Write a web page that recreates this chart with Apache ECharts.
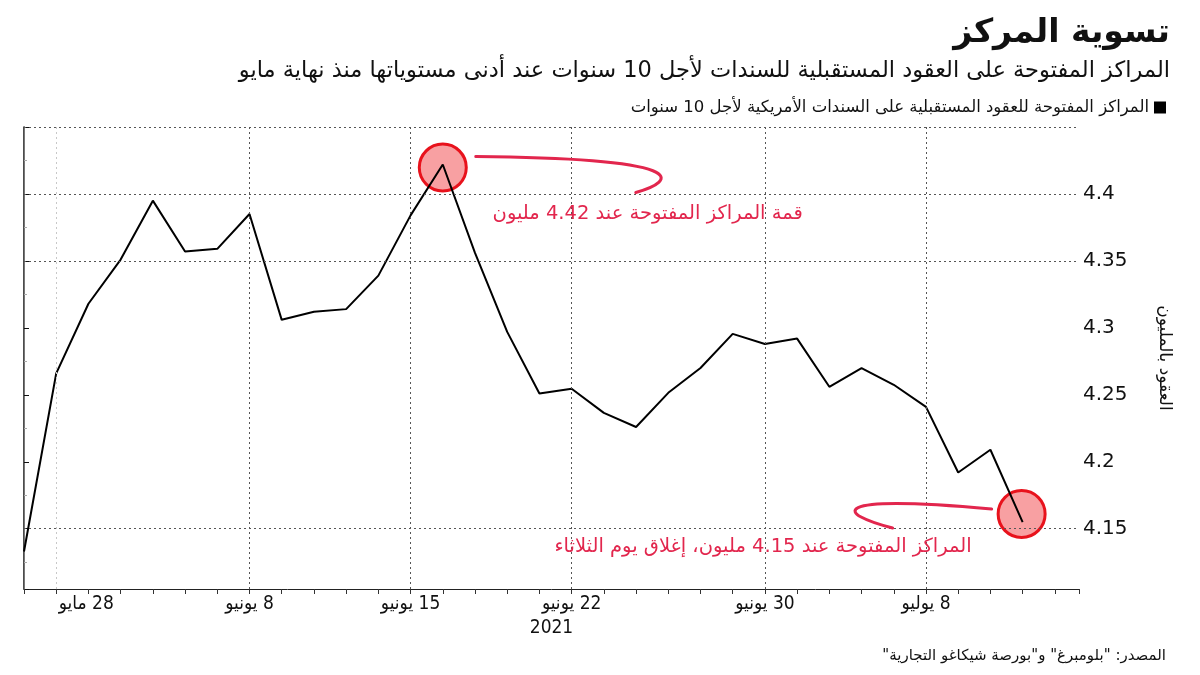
<!DOCTYPE html>
<html>
<head>
<meta charset="utf-8">
<script src="https://cdn.jsdelivr.net/npm/echarts@6/dist/echarts.min.js"></script>
<style>
html,body{margin:0;padding:0;background:#fff;}
#chart{width:1200px;height:675px;}
</style>
</head>
<body>
<div id="chart" dir="rtl"></div>
<script>
// ---- data ----
const tradingDays = ['2021-05-27','2021-05-28','2021-06-01','2021-06-02','2021-06-03','2021-06-04','2021-06-07','2021-06-08',
  '2021-06-09','2021-06-10','2021-06-11','2021-06-14','2021-06-15','2021-06-16','2021-06-17','2021-06-18',
  '2021-06-21','2021-06-22','2021-06-23','2021-06-24','2021-06-25','2021-06-28','2021-06-29','2021-06-30',
  '2021-07-01','2021-07-02','2021-07-06','2021-07-07','2021-07-08','2021-07-09','2021-07-12','2021-07-13'];
const openInterest = [4.133, 4.266, 4.318, 4.351, 4.395, 4.357, 4.359, 4.385,
  4.306, 4.312, 4.314, 4.339, 4.384, 4.422, 4.356, 4.297,
  4.251, 4.2545, 4.2365, 4.226, 4.2515, 4.270, 4.2955, 4.288,
  4.292, 4.256, 4.270, 4.2575, 4.241, 4.192, 4.209, 4.155];
const tickIndex = [1, 7, 12, 17, 23, 28];
const tickLabels = ['28 مايو', '8 يونيو', '15 يونيو', '22 يونيو', '30 يونيو', '8 يوليو'];
const yGridValues = [4.45, 4.4, 4.35, 4.15];
const seriesName = 'المراكز المفتوحة للعقود المستقبلية على السندات الأمريكية لأجل 10 سنوات';
const titleText = 'تسوية المركز';
const subtitleText = 'المراكز المفتوحة على العقود المستقبلية للسندات لأجل 10 سنوات عند أدنى مستوياتها منذ نهاية مايو';
const sourceText = 'المصدر: "بلومبرغ" و"بورصة شيكاغو التجارية"';
const yAxisName = 'العقود بالمليون';
const peakNote = 'قمة المراكز المفتوحة عند 4.42 مليون';
const lastNote = 'المراكز المفتوحة عند 4.15 مليون، إغلاق يوم الثلاثاء';

const FONT = "'DejaVu Sans', 'Noto Sans', sans-serif";
const CFONT = "'DejaVu Sans Condensed', 'DejaVu Sans', sans-serif";
const RED = '#e2264d';

const peakIdx = openInterest.indexOf(Math.max(...openInterest));
const lastIdx = openInterest.length - 1;

const chart = echarts.init(document.getElementById('chart'), null, {renderer: 'canvas'});

const option = {
  animation: false,
  backgroundColor: '#ffffff',
  textStyle: {fontFamily: FONT},
  title: [
    {text: titleText, right: 25, top: 12, textStyle: {fontSize: 33, fontWeight: 'bold', color: '#111', fontFamily: FONT}},
    {text: subtitleText, right: 25, top: 55, textStyle: {fontSize: 22.5, fontWeight: 'normal', color: '#111', fontFamily: FONT}},
    {text: sourceText, right: 29, bottom: 6, textStyle: {fontSize: 15, fontWeight: 'normal', color: '#111', fontFamily: FONT}}
  ],
  legend: {
    right: 29, top: 94, align: 'right', icon: 'rect', itemWidth: 12, itemHeight: 12, itemGap: 6,
    data: [seriesName],
    textStyle: {fontSize: 16.5, color: '#111', fontFamily: FONT}
  },
  grid: {left: 24, right: 121, top: 127, bottom: 86},
  xAxis: {
    type: 'value', min: 0, max: 32.75, interval: 1,
    name: '2021', nameLocation: 'middle', nameGap: 29,
    nameTextStyle: {fontSize: 19, color: '#111', fontFamily: CFONT},
    axisLine: {show: true, lineStyle: {color: '#222', width: 1}},
    axisTick: {show: true, length: 5, lineStyle: {color: '#333'}},
    splitLine: {show: false},
    axisLabel: {
      margin: 6, fontSize: 19, color: '#111', fontFamily: CFONT,
      formatter: function (v) {
        const k = tickIndex.indexOf(Math.round(v));
        if (k < 0 || Math.abs(v - Math.round(v)) > 1e-6) return '';
        if (k === 0) return '{s|' + tickLabels[k] + '}';
        return tickLabels[k];
      },
      rich: {s: {fontSize: 19, color: '#111', fontFamily: CFONT, padding: [0, 0, 0, 60]}}
    }
  },
  yAxis: [
    {
      type: 'value', position: 'right', min: 4.105, max: 4.45, splitNumber: 7,
      name: yAxisName, nameLocation: 'middle', nameRotate: -90, nameGap: 77,
      nameTextStyle: {fontSize: 17, color: '#111', fontFamily: FONT},
      axisLine: {show: true, lineStyle: {color: '#111', width: 1.5}},
      axisTick: {show: true, length: 5, lineStyle: {color: '#111'}},
      minorTick: {show: true, splitNumber: 2, length: 3, lineStyle: {color: '#aaa'}},
      splitLine: {show: false},
      axisLabel: {
        margin: 4, fontSize: 20, color: '#111', fontFamily: FONT,
        showMinLabel: false, showMaxLabel: false,
        formatter: function (v) {
          const r = Math.round(v * 20) / 20;
          if (Math.abs(r - v) > 1e-6 || v > 4.44) return '';
          return String(+r.toFixed(2));
        }
      }
    },
    {
      type: 'value', position: 'left', min: 4.105, max: 4.45,
      axisLine: {show: true, lineStyle: {color: '#777', width: 1}},
      axisTick: {show: false}, axisLabel: {show: false}, splitLine: {show: false}
    }
  ],
  series: [
    {
      name: 'grid', type: 'line', data: [], z: 1, silent: true,
      markLine: {
        silent: true, symbol: ['none', 'none'], label: {show: false}, animation: false,
        data: yGridValues.map(v => ({yAxis: v, lineStyle: {color: '#555', type: [2, 3], width: 1}}))
          .concat(tickIndex.map((i, k) => ({xAxis: i, lineStyle: {color: k === 0 ? '#c8c8c8' : '#555', type: [2, 3], width: 1}})))
      }
    },
    {
      name: 'circles', type: 'scatter', z: 2, silent: true,
      data: [
        {value: [peakIdx, openInterest[peakIdx]], symbolOffset: [0, 3]},
        {value: [lastIdx, openInterest[lastIdx]], symbolOffset: [-1, -8]}
      ],
      symbol: 'circle', symbolSize: 47,
      itemStyle: {color: '#f8a0a2', borderColor: '#e8121c', borderWidth: 3, opacity: 1}
    },
    {
      name: seriesName, type: 'line', z: 3,
      data: openInterest.map((v, i) => [i, v]),
      showSymbol: false, symbol: 'none',
      lineStyle: {color: '#000', width: 2},
      itemStyle: {color: '#000'}
    }
  ]
};
chart.setOption(option);

// annotations anchored to the data points
const pk = chart.convertToPixel({seriesIndex: 2}, [peakIdx, openInterest[peakIdx]]);
const ls = chart.convertToPixel({seriesIndex: 2}, [lastIdx, openInterest[lastIdx]]);
chart.setOption({
  graphic: [
    {type: 'bezierCurve', z: 10, silent: true,
      shape: {x1: pk[0] + 33, y1: pk[1] - 8, cpx1: pk[0] + 250, cpy1: pk[1] - 6, cpx2: pk[0] + 235, cpy2: pk[1] + 16, x2: pk[0] + 193, y2: pk[1] + 28},
      style: {stroke: RED, lineWidth: 3, fill: null, lineCap: 'round'}},
    {type: 'text', z: 10, silent: true, x: pk[0] + 360, y: pk[1] + 49,
      style: {text: peakNote, fill: RED, fontSize: 19.5, fontFamily: FONT, align: 'right', verticalAlign: 'middle'}},
    {type: 'bezierCurve', z: 10, silent: true,
      shape: {x1: ls[0] - 31, y1: ls[1] - 13, cpx1: ls[0] - 200, cpy1: ls[1] - 28, cpx2: ls[0] - 185, cpy2: ls[1] - 8, x2: ls[0] - 130, y2: ls[1] + 6},
      style: {stroke: RED, lineWidth: 3, fill: null, lineCap: 'round'}},
    {type: 'text', z: 10, silent: true, x: ls[0] - 51, y: ls[1] + 25,
      style: {text: lastNote, fill: RED, fontSize: 19.5, fontFamily: FONT, align: 'right', verticalAlign: 'middle'}}
  ]
});
</script>
</body>
</html>
